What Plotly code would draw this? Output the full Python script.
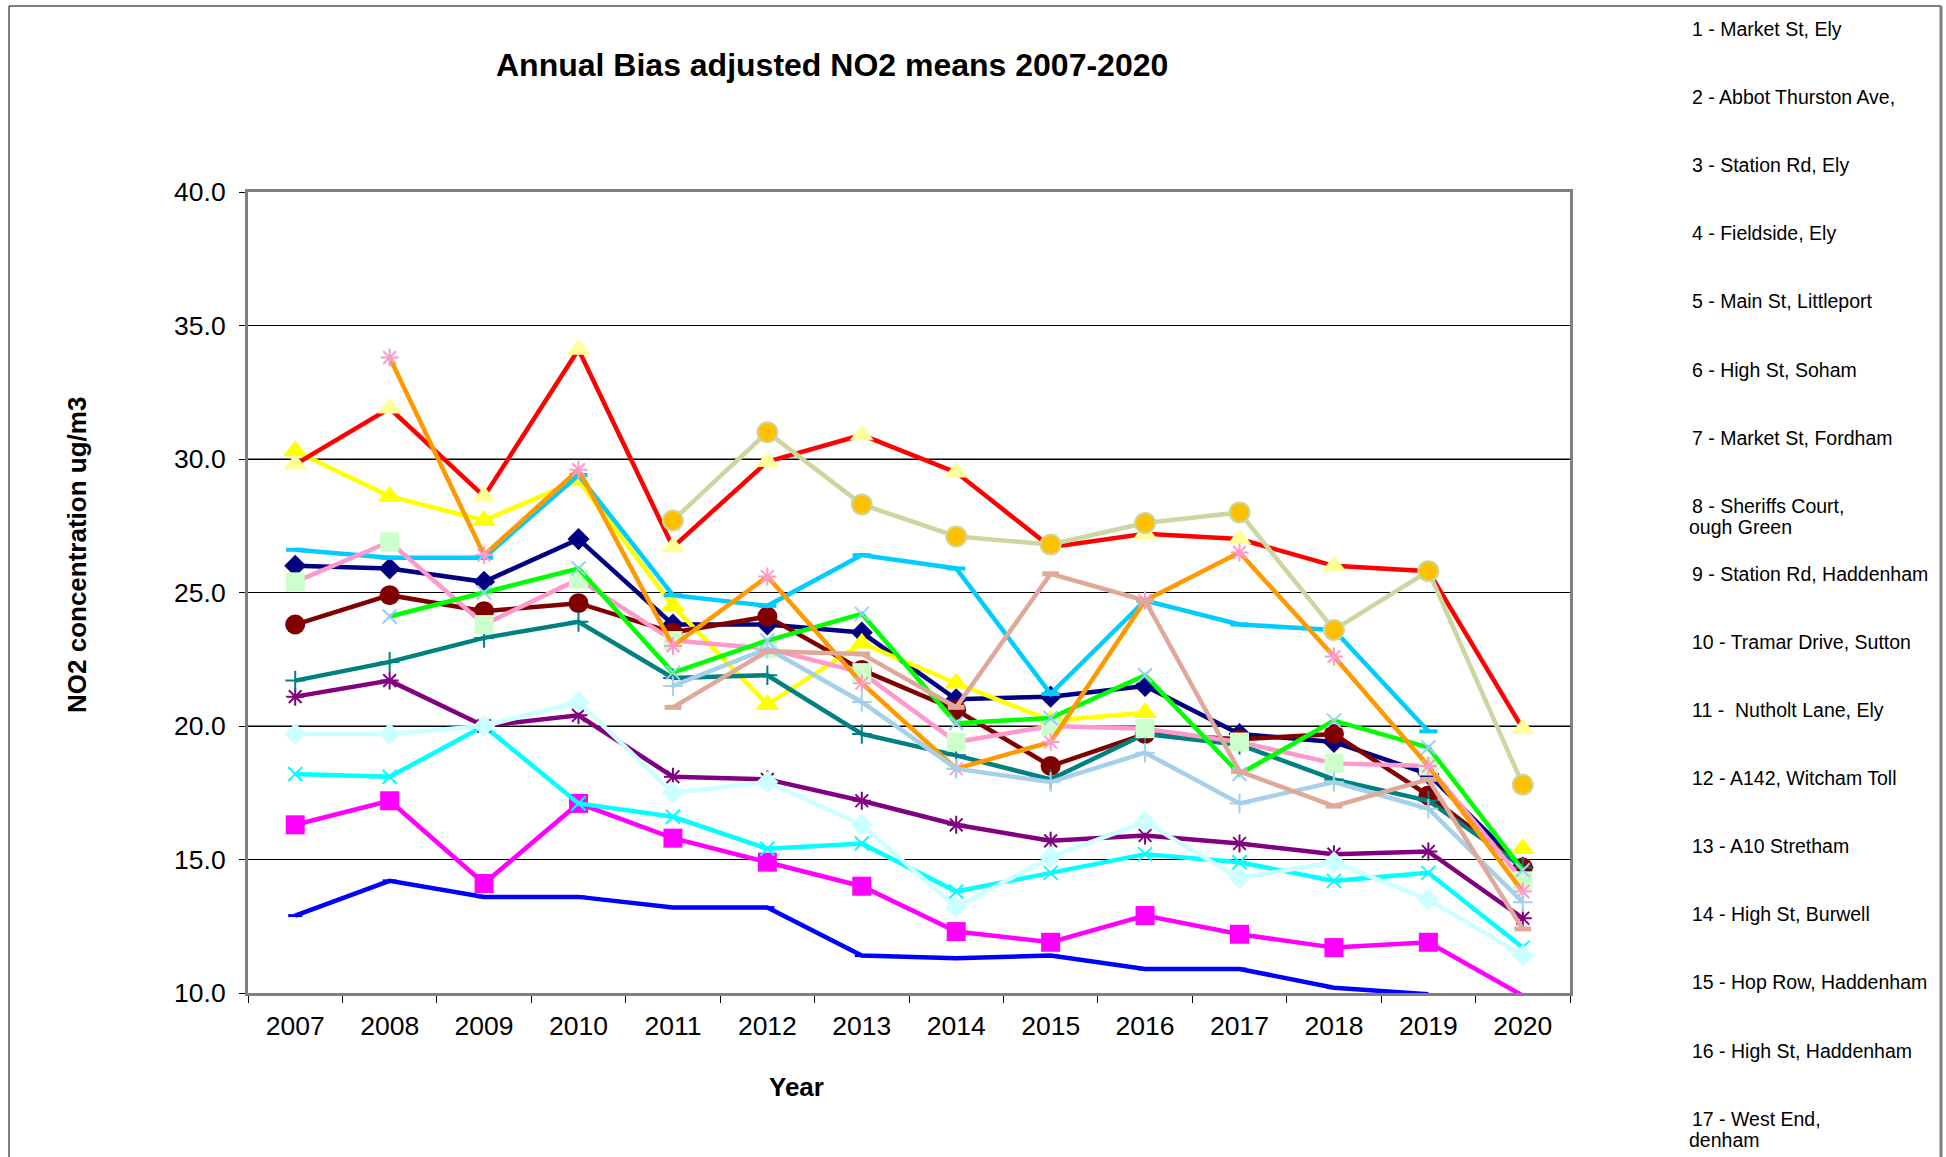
import plotly.graph_objects as go

# ---------------- data ----------------
years = ["2007", "2008", "2009", "2010", "2011", "2012", "2013",
         "2014", "2015", "2016", "2017", "2018", "2019", "2020"]
N = None

site_names = [
    "1 - Market St, Ely",
    "2 - Abbot Thurston Ave,",
    "3 - Station Rd, Ely",
    "4 - Fieldside, Ely",
    "5 - Main St, Littleport",
    "6 - High St, Soham",
    "7 - Market St, Fordham",
    "8 - Sheriffs Court,\nough Green",
    "9 - Station Rd, Haddenham",
    "10 - Tramar Drive, Sutton",
    "11 -\u00a0 Nutholt Lane, Ely",
    "12 - A142, Witcham Toll",
    "13 - A10 Stretham",
    "14 - High St, Burwell",
    "15 - Hop Row, Haddenham",
    "16 - High St, Haddenham",
    "17 - West End,\ndenham",
]

s1 = [26.0, 25.9, 25.4, 27.0, 23.8, 23.8, 23.5, 21.0, 21.1, 21.5, 19.7, 19.4, 18.2, 14.7]
s2 = [16.3, 17.2, 14.1, 17.1, 15.8, 14.9, 14.0, 12.3, 11.9, 12.9, 12.2, 11.7, 11.9, 9.9]
s3 = [30.3, 28.6, 27.7, 29.2, 24.5, 20.8, 23.1, 21.6, 20.2, 20.5, N, N, N, 15.4]
s4 = [18.2, 18.1, 20.0, 17.1, 16.6, 15.4, 15.6, 13.8, 14.5, 15.2, 14.9, 14.2, 14.5, 11.7]
s5 = [21.1, 21.7, 20.0, 20.4, 18.1, 18.0, 17.2, 16.3, 15.7, 15.9, 15.6, 15.2, 15.3, 12.8]
s6 = [23.8, 24.9, 24.3, 24.6, 23.5, 24.1, 22.1, 20.6, 18.5, 19.7, 19.5, 19.7, 17.4, 14.7]
s7 = [21.7, 22.4, 23.3, 23.9, 21.8, 21.9, 19.7, 18.9, 18.0, 19.7, 19.3, 18.0, 17.2, 14.7]
s8 = [12.9, 14.2, 13.6, 13.6, 13.2, 13.2, 11.4, 11.3, 11.4, 10.9, 10.9, 10.2, 9.95, N]
s9 = [26.6, 26.3, 26.3, 29.4, 24.9, 24.5, 26.4, 25.9, 21.2, 24.7, 23.8, 23.6, 19.8, N]
s10 = [19.7, 19.7, 20.0, 20.9, 17.5, 17.9, 16.3, 13.2, 15.1, 16.4, 14.3, 14.9, 13.5, 11.4]
s11 = [25.4, 26.9, 23.8, 25.5, 23.2, 22.9, 22.0, 19.4, 20.0, 19.9, 19.4, 18.6, 18.5, 14.2]
s12 = [29.8, 31.9, 28.6, 34.1, 26.7, 29.9, 30.9, 29.5, 26.7, 27.2, 27.0, 26.0, 25.8, 19.9]
s13 = [N, 24.1, 25.0, 25.9, 22.0, 23.2, 24.2, 20.1, 20.3, 21.9, 18.2, 20.2, 19.2, 14.6]
s14 = [N, 33.8, 26.4, 29.6, 23.0, 25.6, 21.6, 18.4, 19.4, 24.7, 26.5, 22.6, 18.5, 13.8]
s15 = [N, N, N, N, 27.7, 31.0, 28.3, 27.1, 26.8, 27.6, 28.0, 23.6, 25.8, 17.8]
s16 = [N, N, N, N, 21.5, 22.9, 20.9, 18.4, 17.9, 19.0, 17.1, 17.9, 16.9, 13.4]
s17 = [N, N, N, N, 20.7, 22.8, 22.7, 20.7, 25.7, 24.7, 18.3, 17.0, 18.0, 12.4]

series = [s1, s2, s3, s4, s5, s6, s7, s8, s9, s10, s11, s12, s13, s14, s15, s16, s17]

Y_MIN, Y_MAX = 10, 40

# ---------------- styles ----------------
# (line colour, marker symbol, marker size, marker colour, marker outline colour, outline width)
styles = [
    ("#000080", "diamond", 17, "#000080", "#000080", 0),
    ("#FF00FF", "square", 19, "#FF00FF", "#FF00FF", 0),
    ("#FFFF00", "triangle-up", 21, "#FFFF00", "#FFFF00", 0),
    ("#00FFFF", "x-thin-open", 14, "#00FFFF", "#00FFFF", 2),
    ("#800080", "asterisk-open", 15, "#800080", "#800080", 2),
    ("#800000", "circle", 20, "#800000", "#800000", 0),
    ("#008080", "cross-thin-open", 14, "#008080", "#008080", 2),
    ("#0000FF", "line-ew-open", 10, "#0000FF", "#0000FF", 3),
    ("#00CCFF", "line-ew-open", 13, "#00CCFF", "#00CCFF", 4),
    ("#CCFFFF", "diamond", 17, "#CCFFFF", "#CCFFFF", 0),
    ("#FF99CC", "square", 19, "#CCFFCC", "#CCFFCC", 0),
    ("#FF0000", "triangle-up", 21, "#FFFF99", "#FFFF99", 0),
    ("#00FF00", "x-thin-open", 14, "#99CCFF", "#99CCFF", 2),
    ("#FF9900", "asterisk-open", 15, "#FF99CC", "#FF99CC", 2),
    ("#CCD6A0", "circle", 20, "#FFC000", "#CCD6A0", 2),
    ("#A6CFEA", "cross-thin-open", 14, "#A6CFEA", "#A6CFEA", 2),
    ("#E0A899", "line-ew-open", 12, "#E0A899", "#E0A899", 5),
]

FONT = "Arial, Liberation Sans, sans-serif"
W, H = 1946, 1157
L, R, T, B = 248, 1570, 192, 993  # plot area in pixels


def px(x):
    return (x - L) / (R - L)


def py(y):
    return (B - y) / (B - T)


fig = go.Figure()
for name, vals, st in zip(site_names, series, styles):
    lc, sym, sz, mc, mlc, mlw = st
    # like the original, markers of points outside the axis range are not drawn
    sizes = [sz if (v is not None and Y_MIN <= v <= Y_MAX) else 0 for v in vals]
    fig.add_trace(go.Scatter(
        x=years, y=vals, name=name.replace("\n", " "),
        mode="lines+markers", connectgaps=False, showlegend=False,
        line=dict(color=lc, width=4.5),
        marker=dict(symbol=sym, size=sizes, color=mc, opacity=1,
                    line=dict(color=mlc, width=mlw)),
    ))

shapes = []
# half-pixel grid lines rendered grey in the original
for v in (30, 20):
    shapes.append(dict(type="line", xref="paper", yref="y", x0=0, x1=1, y0=v, y1=v,
                       line=dict(color="#808080", width=2), layer="below"))
# outer chart frame
shapes.append(dict(type="line", xref="paper", yref="paper", x0=px(9), x1=px(1941),
                   y0=py(6), y1=py(6), line=dict(color="black", width=1)))
shapes.append(dict(type="line", xref="paper", yref="paper", x0=px(9), x1=px(9),
                   y0=py(6), y1=py(1160), line=dict(color="black", width=1)))
shapes.append(dict(type="line", xref="paper", yref="paper", x0=px(1941), x1=px(1941),
                   y0=py(6), y1=py(1160), line=dict(color="#808080", width=3)))

annotations = [
    dict(text="<b>Annual Bias adjusted NO2 means 2007-2020</b>", x=px(832), y=py(65),
         xref="paper", yref="paper", xanchor="center", yanchor="middle", showarrow=False,
         font=dict(family=FONT, size=32, color="black")),
    dict(text="<b>NO2 concentration ug/m3</b>", x=px(77), y=py(555), textangle=-90,
         xref="paper", yref="paper", xanchor="center", yanchor="middle", showarrow=False,
         font=dict(family=FONT, size=26, color="black")),
    dict(text="<b>Year</b>", x=px(796), y=py(1087),
         xref="paper", yref="paper", xanchor="center", yanchor="middle", showarrow=False,
         font=dict(family=FONT, size=26, color="black")),
]

for i, name in enumerate(site_names):
    lines = name.split("\n")
    yc = 29 + 68.1 * i
    for j, ln in enumerate(lines):
        annotations.append(dict(
            text=ln, x=px(1690 if j == 0 else 1687), y=py(yc + 21.5 * j),
            xref="paper", yref="paper", xanchor="left", yanchor="middle", showarrow=False,
            font=dict(family=FONT, size=19.5, color="black")))

fig.update_layout(
    width=W, height=H,
    margin=dict(l=L, r=W - R, t=T, b=H - B, pad=0, autoexpand=False),
    paper_bgcolor="white", plot_bgcolor="white",
    font=dict(family=FONT, color="black"),
    shapes=shapes, annotations=annotations,
    xaxis=dict(type="category", range=[-0.5, 13.5], tickson="boundaries",
               ticks="outside", ticklen=7, tickwidth=1, tickcolor="black",
               ticklabelstandoff=7,
               showline=True, linecolor="#808080", linewidth=3, mirror=True,
               showgrid=False, zeroline=False,
               tickfont=dict(family=FONT, size=26.5, color="black")),
    yaxis=dict(range=[Y_MIN, Y_MAX], tick0=10, dtick=5, tickformat=".1f",
               ticks="outside", ticklen=6, tickwidth=1, tickcolor="black",
               ticklabelstandoff=8,
               showline=True, linecolor="#808080", linewidth=3, mirror=True,
               showgrid=True, gridcolor="black", gridwidth=1, zeroline=False,
               tickfont=dict(family=FONT, size=26.5, color="black")),
)

fig.write_html("out.html")
